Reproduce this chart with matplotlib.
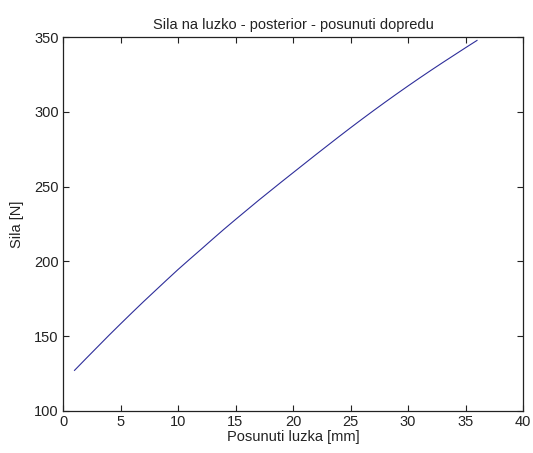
import matplotlib
matplotlib.use("Agg")
import matplotlib.pyplot as plt

plt.rcParams['font.family'] = ['Liberation Sans', 'DejaVu Sans']

x_mm = [1, 2, 3, 4, 5, 6, 7, 8, 9, 10, 11, 12, 13, 14, 15, 16, 17, 18,
        19, 20, 21, 22, 23, 24, 25, 26, 27, 28, 29, 30, 31, 32, 33, 34, 35, 36]
force_N = [127.0, 134.9, 142.7, 150.5, 158.1, 165.6, 173.0, 180.2, 187.4, 194.5,
           201.3, 208.0, 214.8, 221.5, 228.0, 234.4, 240.8, 247.0, 253.2, 259.3,
           265.4, 271.5, 277.5, 283.5, 289.4, 295.2, 300.9, 306.5, 312.0, 317.4,
           322.7, 327.9, 333.0, 338.0, 343.0, 347.9]
x_ticks = [0, 5, 10, 15, 20, 25, 30, 35, 40]
y_ticks = [100, 150, 200, 250, 300, 350]

title = "Sila na luzko - posterior - posunuti dopredu"
xlabel = "Posunuti luzka [mm]"
ylabel = "Sila [N]"

fig = plt.figure(figsize=(5.33, 4.53), dpi=100)
ax = fig.add_axes([63/533, (453-410.7)/453, 460/533, (410.7-37.3)/453])
ax.plot(x_mm, force_N, color='#2e2e9a', lw=0.8)
ax.set_xlim(0, 40)
ax.set_ylim(100, 350)
ax.set_xticks(x_ticks)
ax.set_yticks(y_ticks)
tc = '#222222'
ax.tick_params(direction='in', length=4, width=0.8, top=True, right=True,
               labelsize=10.5, colors=tc, pad=3)
for s in ax.spines.values():
    s.set_linewidth(0.9)
    s.set_color('#222222')
ax.set_title(title, fontsize=10.5, color=tc, pad=6)
ax.set_xlabel(xlabel, fontsize=10.5, color=tc, labelpad=1)
ax.set_ylabel(ylabel, fontsize=10.5, color=tc, labelpad=7)
fig.savefig("out.png", dpi=100)
